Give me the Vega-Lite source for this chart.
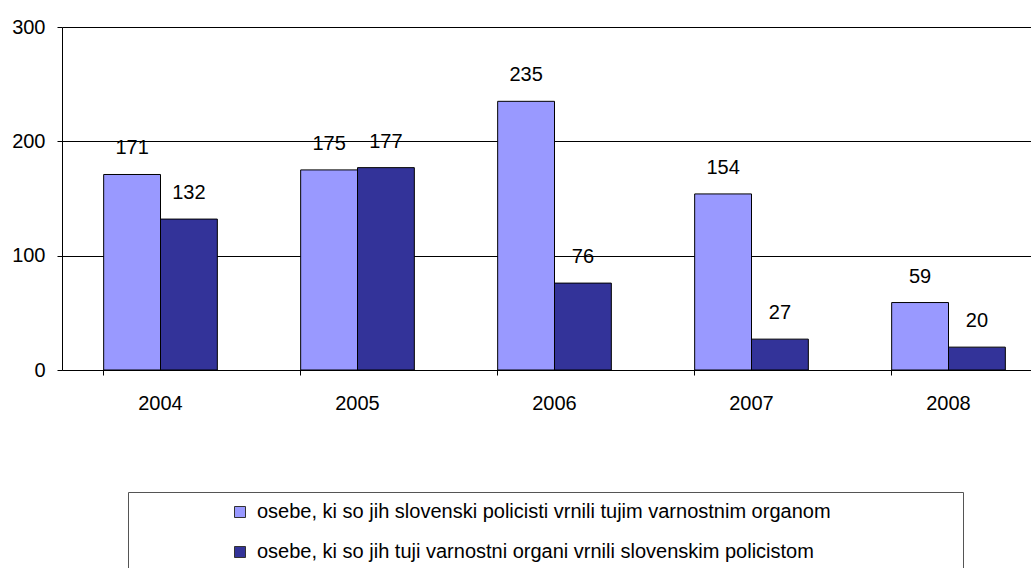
{
  "$schema": "https://vega.github.io/schema/vega-lite/v6.json",
  "width": 985,
  "height": 343,
  "autosize": "none",
  "padding": {"left": 62, "top": 27, "right": 0, "bottom": 198},
  "background": "white",
  "config": {
    "font": "Liberation Sans",
    "view": {"stroke": null}
  },
  "data": {
    "values": [
      {"year": "2004", "series": "osebe, ki so jih slovenski policisti vrnili tujim varnostnim organom", "value": 171},
      {"year": "2004", "series": "osebe, ki so jih tuji varnostni organi vrnili slovenskim policistom", "value": 132},
      {"year": "2005", "series": "osebe, ki so jih slovenski policisti vrnili tujim varnostnim organom", "value": 175},
      {"year": "2005", "series": "osebe, ki so jih tuji varnostni organi vrnili slovenskim policistom", "value": 177},
      {"year": "2006", "series": "osebe, ki so jih slovenski policisti vrnili tujim varnostnim organom", "value": 235},
      {"year": "2006", "series": "osebe, ki so jih tuji varnostni organi vrnili slovenskim policistom", "value": 76},
      {"year": "2007", "series": "osebe, ki so jih slovenski policisti vrnili tujim varnostnim organom", "value": 154},
      {"year": "2007", "series": "osebe, ki so jih tuji varnostni organi vrnili slovenskim policistom", "value": 27},
      {"year": "2008", "series": "osebe, ki so jih slovenski policisti vrnili tujim varnostnim organom", "value": 59},
      {"year": "2008", "series": "osebe, ki so jih tuji varnostni organi vrnili slovenskim policistom", "value": 20}
    ]
  },
  "encoding": {
    "x": {
      "field": "year",
      "type": "ordinal",
      "scale": {"paddingInner": 0.423, "paddingOuter": 0.2115},
      "axis": {
        "title": null,
        "bandPosition": 0,
        "labelAngle": 0,
        "labelFontSize": 20,
        "labelColor": "black",
        "labelPadding": 18,
        "tickSize": 5,
        "tickColor": "black",
        "domainColor": "black",
        "grid": false
      }
    },
    "xOffset": {
      "field": "series",
      "type": "nominal",
      "sort": [
        "osebe, ki so jih slovenski policisti vrnili tujim varnostnim organom",
        "osebe, ki so jih tuji varnostni organi vrnili slovenskim policistom"
      ]
    },
    "y": {
      "field": "value",
      "type": "quantitative",
      "scale": {"domain": [0, 300], "nice": false},
      "axis": {
        "title": null,
        "values": [0, 100, 200, 300],
        "labelFontSize": 20,
        "labelColor": "black",
        "labelPadding": 12,
        "tickSize": 5,
        "tickColor": "black",
        "domainColor": "black",
        "grid": true,
        "gridColor": "black",
        "gridOpacity": 1,
        "gridWidth": 1
      }
    }
  },
  "layer": [
    {
      "mark": {"type": "bar", "stroke": "black", "strokeWidth": 1},
      "encoding": {
        "color": {
          "field": "series",
          "type": "nominal",
          "scale": {
            "domain": [
              "osebe, ki so jih slovenski policisti vrnili tujim varnostnim organom",
              "osebe, ki so jih tuji varnostni organi vrnili slovenskim policistom"
            ],
            "range": ["#9999FF", "#333399"]
          },
          "legend": {
            "title": " ",
            "titleOrient": "right",
            "titlePadding": 122,
            "orient": "none",
            "legendX": 66,
            "legendY": 465,
            "strokeColor": "#555555",
            "fillColor": "white",
            "padding": 10,
            "symbolOffset": 92,
            "symbolType": "square",
            "symbolSize": 121,
            "symbolStrokeColor": "#333333",
            "symbolStrokeWidth": 1,
            "labelOffset": 7,
            "labelFontSize": 20,
            "labelColor": "black",
            "labelLimit": 900,
            "rowPadding": 20
          }
        }
      }
    },
    {
      "mark": {"type": "text", "baseline": "alphabetic", "dy": -20, "fontSize": 20, "color": "black"},
      "encoding": {
        "text": {"field": "value", "type": "quantitative"}
      }
    }
  ]
}
